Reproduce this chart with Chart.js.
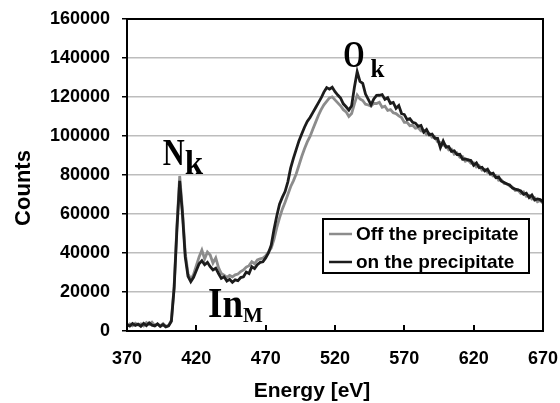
<!DOCTYPE html>
<html>
<head>
<meta charset="utf-8">
<script src="https://cdn.jsdelivr.net/npm/chart.js@4.4.1/dist/chart.umd.min.js"></script>
<style>
  body { margin: 0; background: #fff; }
  #wrap { width: 560px; height: 403px; }
</style>
</head>
<body>
<div id="wrap"><canvas id="eels" width="560" height="403"></canvas></div>
<script>
// Energy axis [eV]
const energies = [
  370,372,374,376,378,380,382,384,386,388,
  390,392,394,396,398,400,402,404,406,408,
  410,412,414,416,418,420,422,424,426,428,
  430,432,434,436,438,440,442,444,446,448,
  450,452,454,456,458,460,462,464,466,468,
  470,472,474,476,478,480,482,484,486,488,
  490,492,494,496,498,500,502,504,506,508,
  510,512,514,516,518,520,522,524,526,528,
  530,532,534,536,538,540,542,544,546,548,
  550,552,554,556,558,560,562,564,566,568,
  570,572,574,576,578,580,582,584,586,588,
  590,592,594,596,598,600,602,604,606,608,
  610,612,614,616,618,620,622,624,626,628,
  630,632,634,636,638,640,642,644,646,648,
  650,652,654,656,658,660,662,664,666,668,
  670
];

// Off the precipitate (grey)
const offCounts = [
  2800,3600,2700,4000,3100,3700,2600,4300,3300,4500,
  2900,3400,2700,3800,2400,2900,5500,23000,54000,79500,
  62000,40000,29500,26500,29000,33500,38000,41500,37000,40500,
  39000,34900,37500,32500,29500,28700,27500,28500,27800,28800,
  29200,30500,31300,32800,33500,35500,34500,36500,37000,37400,
  38500,40500,42500,47000,53000,58000,62500,66000,70000,74000,
  77000,80500,85000,89500,93500,97000,99800,103500,107000,110500,
  113500,116000,117800,119500,120100,118500,117000,115500,113500,112400,
  110000,111500,116500,121000,119000,118200,116300,115900,115300,116800,
  116600,117300,114700,115300,113100,113500,111900,111500,110300,109500,
  107000,107000,105300,105500,104000,104300,102600,102500,100700,101300,
  99300,99500,97000,96700,95300,95000,92900,93300,90700,91300,
  89100,89400,87100,87700,86000,86300,84100,84700,82500,82900,
  81300,81100,79500,79700,77300,77500,75700,75500,74300,73700,
  72100,72300,70500,71300,69100,69500,67700,68300,66300,66900,
  65500
];

// on the precipitate (black)
const onCounts = [
  3200,2500,3800,2900,3500,2400,3900,2800,4200,3000,
  2600,3700,2300,3300,2100,2600,5000,22000,52000,77000,
  60000,38000,28000,25300,27500,31000,34500,36000,34000,35200,
  33000,31300,32200,29500,27000,27800,25600,26500,25000,26200,
  25800,27400,27800,30200,29500,33000,32000,34000,35200,35500,
  37500,40000,44000,52000,59000,65000,68500,71500,76500,83500,
  88500,93000,97500,101000,104500,107500,109500,112000,114500,117000,
  119500,122500,124800,124000,125000,122700,121000,119500,116500,115000,
  113300,115500,125000,133000,128000,127000,121500,118800,116000,119000,
  120800,120900,121200,118800,119600,116700,117200,114200,115600,111500,
  111000,108400,108900,107000,106600,104900,105400,102000,103300,100600,
  101000,98800,98800,94000,97400,94300,94600,92100,92400,90500,
  90600,88100,88200,87800,87400,85000,86200,83700,84000,82100,
  83000,80500,80900,78600,79000,76800,76200,75400,74900,73300,
  72800,72400,71800,70100,70700,68400,69700,67200,67700,67400,
  66200
];

const xTicks = [370, 420, 470, 520, 570, 620, 670];
const yTicks = [0, 20000, 40000, 60000, 80000, 100000, 120000, 140000, 160000];

const seriesNames = ['Off the precipitate', 'on the precipitate'];
const seriesColors = ['#8c8c8c', '#1c1c1c'];

// Peak labels: [main, subscript, energy, counts]
const peakLabels = [
  ['N', 'k', 408, 79500],
  ['O', 'k', 536, 133000],
  ['In', 'M', 440, 25000]
];

function toXY(ys) {
  return energies.map((e, i) => ({ x: e, y: ys[i] }));
}

// Draws frame, inward x ticks, axis titles, peak labels and the boxed legend
const decorations = {
  id: 'decorations',
  afterDatasetsDraw(chart) {
    const ctx = chart.ctx;
    const a = chart.chartArea;
    const xs = chart.scales.x;
    const ys = chart.scales.y;

    ctx.save();
    // frame
    ctx.strokeStyle = '#000';
    ctx.lineWidth = 2;
    ctx.strokeRect(a.left, a.top, a.right - a.left, a.bottom - a.top);

    // inward ticks on the energy axis
    xTicks.slice(1, -1).forEach(v => {
      const px = Math.round(xs.getPixelForValue(v));
      ctx.beginPath();
      ctx.moveTo(px, a.bottom);
      ctx.lineTo(px, a.bottom - 6);
      ctx.stroke();
    });

    // axis titles
    ctx.fillStyle = '#000';
    ctx.font = 'bold 21px "Liberation Sans", Arial, sans-serif';
    ctx.textAlign = 'center';
    ctx.textBaseline = 'alphabetic';
    ctx.fillText('Energy [eV]', 312, 397);
    ctx.save();
    ctx.translate(30, 188);
    ctx.rotate(-Math.PI / 2);
    ctx.font = 'bold 22px "Liberation Sans", Arial, sans-serif';
    ctx.fillText('Counts', 0, 0);
    ctx.restore();

    // peak labels (serif, bold)
    ctx.textAlign = 'left';
    const serif = '"Liberation Serif", "Times New Roman", serif';
    function label(main, sub, x, base, size, subSize, sx, gap, subDy) {
      ctx.save();
      ctx.translate(x, base);
      ctx.font = 'bold ' + size + 'px ' + serif;
      const w = ctx.measureText(main).width * sx;
      ctx.save();
      ctx.scale(sx, 1);
      ctx.fillText(main, 0, 0);
      ctx.restore();
      ctx.font = 'bold ' + subSize + 'px ' + serif;
      ctx.fillText(sub, w + gap, subDy);
      ctx.restore();
    }
    const n = peakLabels[0], o = peakLabels[1], inm = peakLabels[2];
    label(n[0], n[1], xs.getPixelForValue(n[2]) - 17, ys.getPixelForValue(n[3]) - 11, 38, 33, 0.8, 0, 9);
    label(o[0], o[1], xs.getPixelForValue(o[2]) - 14, ys.getPixelForValue(o[3]) - 5, 38, 25, 0.72, 6, 10);
    label(inm[0], inm[1], xs.getPixelForValue(inm[2]) - 16, ys.getPixelForValue(inm[3]) + 35, 42, 21, 0.88, 0, 5);

    // legend box
    const lx = 323, ly = 219, lw = 206, lh = 54;
    ctx.fillStyle = '#fff';
    ctx.fillRect(lx, ly, lw, lh);
    ctx.strokeStyle = '#000';
    ctx.lineWidth = 2;
    ctx.strokeRect(lx, ly, lw, lh);
    ctx.font = 'bold 19px "Liberation Sans", Arial, sans-serif';
    ctx.textBaseline = 'middle';
    seriesNames.forEach((name, i) => {
      const cy = ly + 15 + i * 28;
      ctx.strokeStyle = seriesColors[i];
      ctx.lineWidth = 2.5;
      ctx.beginPath();
      ctx.moveTo(lx + 6, cy);
      ctx.lineTo(lx + 29, cy);
      ctx.stroke();
      ctx.fillStyle = '#000';
      ctx.fillText(name, lx + 33, cy + 1);
    });
    ctx.restore();
  }
};

const ctx = document.getElementById('eels').getContext('2d');
new Chart(ctx, {
  type: 'line',
  data: {
    datasets: [
      {
        label: seriesNames[0],
        data: toXY(offCounts),
        borderColor: seriesColors[0],
        borderWidth: 2.8,
        pointRadius: 0,
        tension: 0,
        order: 1
      },
      {
        label: seriesNames[1],
        data: toXY(onCounts),
        borderColor: seriesColors[1],
        borderWidth: 2.8,
        pointRadius: 0,
        tension: 0,
        order: 0
      }
    ]
  },
  options: {
    responsive: false,
    animation: false,
    layout: { padding: { top: 19, right: 17, left: 0, bottom: 0 } },
    plugins: {
      legend: { display: false },
      tooltip: { enabled: false }
    },
    scales: {
      x: {
        type: 'linear',
        min: 370,
        max: 670,
        afterBuildTicks: s => { s.ticks = xTicks.map(v => ({ value: v })); },
        afterFit: s => { s.height = 72; s.paddingLeft = 0; s.paddingRight = 0; },
        grid: { display: false, drawTicks: false },
        border: { display: true, color: '#000', width: 2 },
        ticks: {
          padding: 17,
          color: '#000',
          font: { family: '"Liberation Sans", Arial, sans-serif', size: 18, weight: 'bold' },
          callback: v => String(v)
        }
      },
      y: {
        min: 0,
        max: 160000,
        afterBuildTicks: s => { s.ticks = yTicks.map(v => ({ value: v })); },
        afterFit: s => { s.width = 127; s.paddingTop = 0; s.paddingBottom = 0; },
        grid: { color: '#bdbdbd', lineWidth: 1.5, tickLength: 5, tickColor: '#000' },
        border: { display: true, color: '#000', width: 2 },
        ticks: {
          padding: 12,
          color: '#000',
          font: { family: '"Liberation Sans", Arial, sans-serif', size: 18, weight: 'bold' },
          callback: v => String(v)
        }
      }
    }
  },
  plugins: [decorations]
});
</script>
</body>
</html>
